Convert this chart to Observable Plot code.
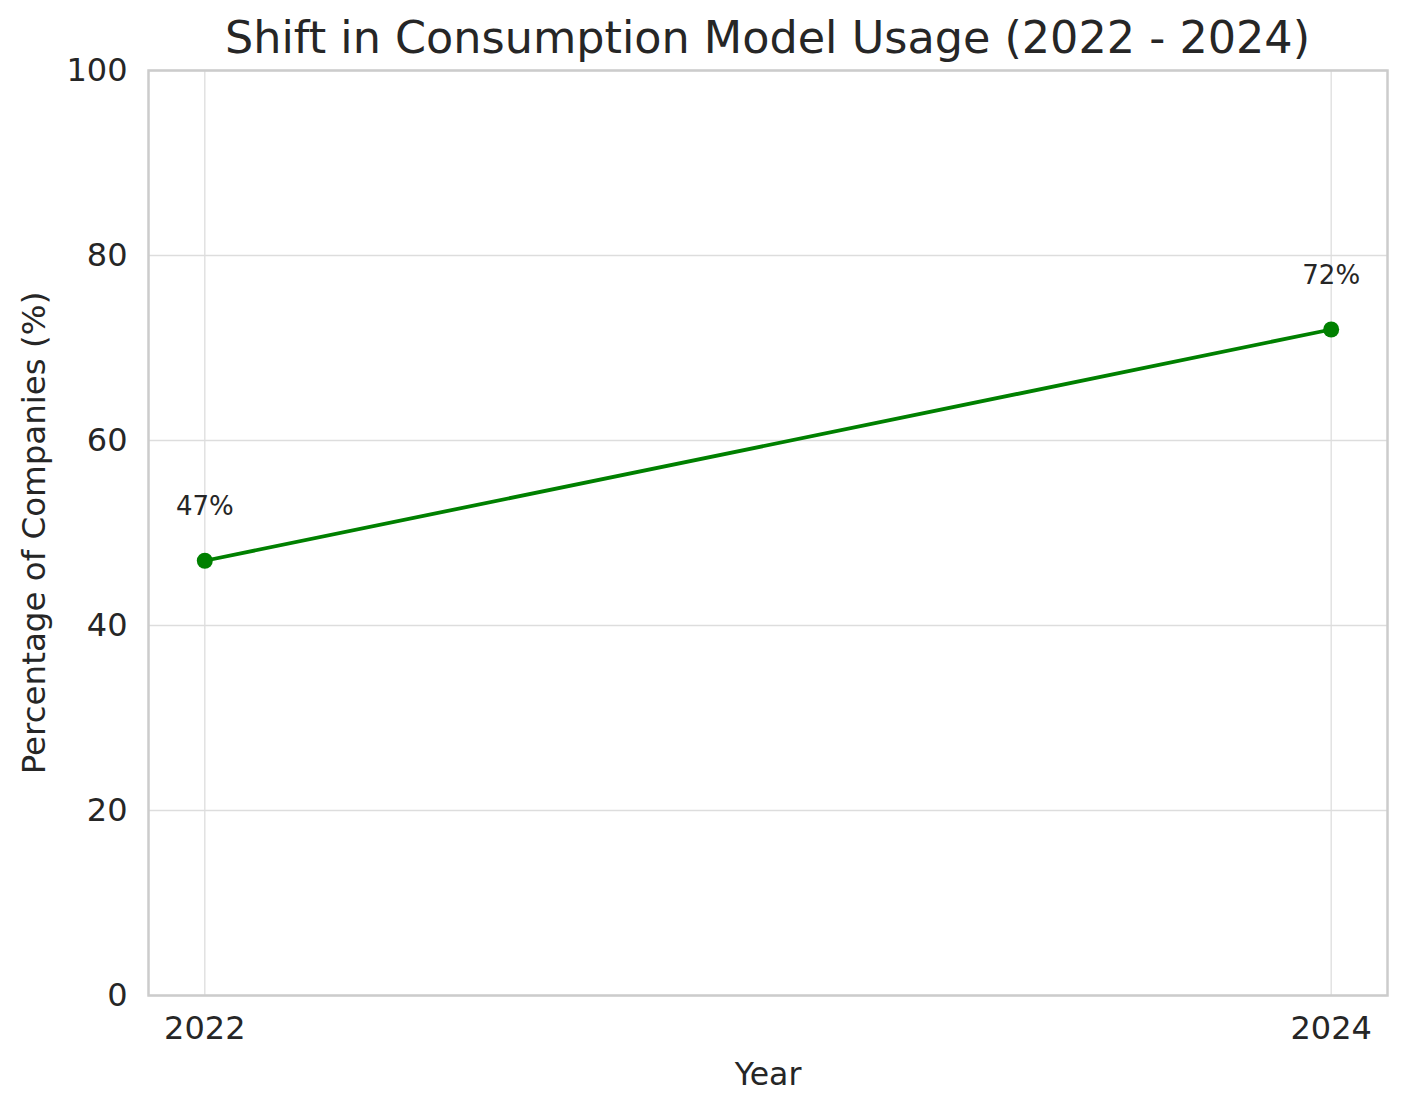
<!DOCTYPE html>
<html>
<head>
<meta charset="utf-8">
<script src="https://cdn.jsdelivr.net/npm/d3@7"></script>
<script src="https://cdn.jsdelivr.net/npm/@observablehq/plot@0.6"></script>
<style>
  html, body { margin: 0; padding: 0; background: #ffffff; }
  #wrap { width: 1407px; font-family: "DejaVu Sans", sans-serif; }
  #title {
    position: relative;
    z-index: 2;
    box-sizing: border-box;
    width: 1407px; height: 40px;
    overflow: visible;
    padding: 12px 20px 0 148px;
    line-height: 52px;
    font-size: 44.5px;
    color: #262626;
    text-align: center;
    white-space: nowrap;
  }
  #chart svg { display: block; }
</style>
</head>
<body>
<div id="wrap">
  <div id="title">Shift in Consumption Model Usage (2022 - 2024)</div>
  <div id="chart"></div>
</div>
<script>
// ---- data ----
const years = [2022, 2024];
const percentages = [47, 72];
const xTicks = [2022, 2024];
const yTicks = [0, 20, 40, 60, 80, 100];
const xLabel = "Year";
const yLabel = "Percentage of Companies (%)";

const data = years.map((y, i) => ({year: y, value: percentages[i]}));

const textColor = "#262626";
const green = "#008000";

const chart = Plot.plot({
  width: 1407,
  height: 1071,
  marginTop: 30,
  marginBottom: 116,
  marginLeft: 148,
  marginRight: 20,
  style: {fontFamily: "DejaVu Sans, sans-serif", color: textColor, background: "transparent", overflow: "visible"},
  x: {type: "linear", domain: [2021.9, 2024.1]},
  y: {domain: [0, 100]},
  marks: [
    Plot.gridX(xTicks, {stroke: "#dddddd", strokeOpacity: 1, strokeWidth: 1.3}),
    Plot.gridY(yTicks, {stroke: "#dddddd", strokeOpacity: 1, strokeWidth: 1.3}),
    Plot.frame({stroke: "#cccccc", strokeWidth: 2.5}),
    Plot.axisX(xTicks, {tickSize: 0, tickPadding: 21, fontSize: 32, tickFormat: d => String(d), label: null, fill: textColor}),
    Plot.axisY(yTicks, {tickSize: 0, tickPadding: 21, fontSize: 32, tickFormat: d => String(d), label: null, fill: textColor}),
    Plot.text([xLabel], {frameAnchor: "bottom", textAnchor: "middle", lineAnchor: "bottom", dy: 89, fontSize: 31.5, fill: textColor}),
    Plot.text([yLabel], {frameAnchor: "left", textAnchor: "middle", lineAnchor: "bottom", rotate: -90, dx: -104, fontSize: 32.5, fill: textColor}),
    Plot.line(data, {x: "year", y: "value", stroke: green, strokeWidth: 3.8}),
    Plot.dot(data, {x: "year", y: "value", r: 8, fill: green, stroke: "none"}),
    Plot.text(data, {x: "year", y: "value", text: d => d.value + "%", lineAnchor: "bottom", dy: -46, fontSize: 26, fill: textColor})
  ]
});
document.getElementById("chart").appendChild(chart);
</script>
</body>
</html>
